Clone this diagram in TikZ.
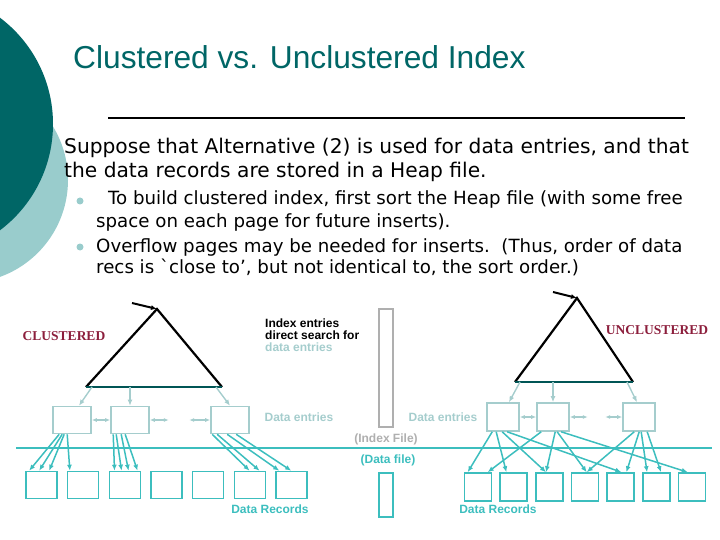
\documentclass[tikz,border=0pt]{standalone}
\usepackage{fontspec}
\setmainfont{Liberation Sans}
\newfontfamily\bodyfont{DejaVu Sans}
\newfontfamily\serifbold{Liberation Serif}
\usetikzlibrary{arrows.meta, positioning, calc}
\definecolor{slidedark}{RGB}{0,102,102}
\definecolor{slidelight}{RGB}{153,204,204}
\definecolor{entrygray}{RGB}{165,205,205}
\definecolor{recteal}{RGB}{60,190,190}
\definecolor{filegray}{RGB}{175,175,175}
\definecolor{basedark}{RGB}{0,85,85}
\definecolor{labelred}{RGB}{140,30,60}

\begin{document}
\begin{tikzpicture}[x=1pt, y=-1pt,
    tri/.style={draw=black, line width=2.2pt},
    base/.style={draw=basedark, line width=2.4pt},
    entry/.style={rectangle, draw=entrygray, line width=1.6pt,
                  minimum width=38pt, minimum height=27pt, inner sep=0pt},
    rentry/.style={entry, minimum width=32pt, minimum height=28pt},
    rec/.style={rectangle, draw=recteal, line width=1.6pt,
                minimum width=31pt, minimum height=27pt, inner sep=0pt},
    rrec/.style={rec, minimum width=27pt, minimum height=28pt},
    tip/.style={-{Latex[length=6pt,width=5pt]}},
    down/.style={tip, draw=entrygray, line width=1.4pt},
    link/.style={{Latex[length=5pt,width=4pt]}-{Latex[length=5pt,width=4pt]},
                 draw=entrygray, line width=1.2pt},
    ptr/.style={tip, draw=recteal, line width=1.5pt},
    lab/.style={font=\bfseries\fontsize{12}{12}\selectfont, inner sep=0pt},
    body/.style={anchor=base west, inner sep=0pt,
                 font=\bodyfont\fontsize{20.2}{24}\selectfont},
    point/.style={anchor=base west, inner sep=0pt,
                  font=\bodyfont\fontsize{18.2}{22}\selectfont},
    dot/.style={circle, fill=slidelight, minimum size=7pt, inner sep=0pt}
]
    \useasboundingbox (0,0) rectangle (720,540);

    % slide decoration
    \begin{scope}
        \clip (0,0) rectangle (720,540);
        \fill[slidelight] (-35,180) circle[radius=103pt];
        \fill[slidedark] (-80,124) circle[radius=133pt];
    \end{scope}

    \node[anchor=base west, inner sep=0pt, text=slidedark,
          font=\fontsize{31.7}{36}\selectfont] (title) at (73,69)
        {Clustered vs. Unclustered Index};
    \draw[line width=2pt] (108,118) -- (685,118);

    \node[body] (intro1) at (64,154)
        {Suppose that Alternative (2) is used for data entries, and that};
    \node[body] (intro2) at (64,178)
        {the data records are stored in a Heap file.};
    \node[dot] (b1) at (80,201) {};
    \node[dot] (b2) at (80,247) {};
    \node[point] (p1) at (108,205)
        {To build clustered index, first sort the Heap file (with some free};
    \node[point] (p2) at (96,227)
        {space on each page for future inserts).};
    \node[point] (p3) at (96,252)
        {Overflow pages may be needed for inserts.\ \ (Thus, order of data};
    \node[point] (p4) at (96,273)
        {recs is \textasciigrave close to’, but not identical to, the sort order.)};

    % clustered tree
    \coordinate (ltop) at (157,309);
    \coordinate (lbl) at (86,387);
    \coordinate (lbr) at (222,387);
    \coordinate (lin) at (132,303);
    \draw[tri] (lbl) -- (ltop) -- (lbr);
    \draw[base] (lbl) -- (lbr);
    \draw[tip, line width=2pt] (lin) -- (ltop);

    \node[entry] (e1) at (72,420) {};
    \node[entry] (e2) at (130,420) {};
    \node[entry] (e3) at (230,420) {};
    \draw[down] ([xshift=6pt]lbl) -- ([xshift=7pt]e1.north);
    \draw[down] ([xshift=44pt]lbl) -- (e2.north);
    \draw[down] ([xshift=-6pt]lbr) -- (e3.north);
    \draw[link] (e1.east) -- (e2.west);
    \draw[link] (e2.east) -- ++(19,0);
    \draw[link] (e3.west) -- ++(-21,0);

    \foreach \i in {1,...,7}
        \node[rec] (l\i) at ({41.5+41.67*(\i-1)},485) {};
    \foreach \s/\t/\e in {7/l1/4, 10/l1/14, 12/l1/24, 15/l2/3}
        \draw[ptr] ([xshift=\s pt]e1.south west) -- ([xshift=\e pt]\t.north west);
    \foreach \s/\e in {3/6, 6/13, 11/20, 15/29}
        \draw[ptr] ([xshift=\s pt]e2.south west) -- ([xshift=\e pt]l3.north west);
    \foreach \s/\t/\e in {2/l6/16, 7/l6/26, 17/l7/4, 26/l7/16}
        \draw[ptr] ([xshift=\s pt]e3.south west) -- ([xshift=\e pt]\t.north west);

    \node[font=\serifbold\bfseries\fontsize{13.5}{13}\selectfont,
          text=labelred, inner sep=0pt] (clus) at (64,336) {CLUSTERED};

    % unclustered tree
    \coordinate (rtop) at (577,298);
    \coordinate (rbl) at (515,382);
    \coordinate (rbr) at (633,382);
    \coordinate (rin) at (553,292);
    \draw[tri] (rbl) -- (rtop) -- (rbr);
    \draw[base] (rbl) -- (rbr);
    \draw[tip, line width=2pt] (rin) -- (rtop);

    \node[rentry] (f1) at (503,417) {};
    \node[rentry] (f2) at (553,417) {};
    \node[rentry] (f3) at (639,417) {};
    \draw[down] ([xshift=5pt]rbl) -- ([xshift=6pt]f1.north);
    \draw[down] ([xshift=38pt]rbl) -- (f2.north);
    \draw[down] ([xshift=-6pt]rbr) -- ([xshift=-2pt]f3.north);
    \draw[link] (f1.east) -- (f2.west);
    \draw[link] (f2.east) -- ++(18,0);
    \draw[link] (f3.west) -- ++(-17,0);

    \foreach \i in {1,...,7}
        \node[rrec] (u\i) at ({478+35.67*(\i-1)},487) {};
    \foreach \s/\t/\e in {6/u1/4, 10/u2/7, 16/u3/11, 21/u5/15}
        \draw[ptr] ([xshift=\s pt]f1.south west) -- ([xshift=\e pt]\t.north west);
    \foreach \s/\t/\e in {5/u1/24, 19/u3/11, 21/u4/16, 25/u7/10}
        \draw[ptr] ([xshift=\s pt]f2.south west) -- ([xshift=\e pt]\t.north west);
    \foreach \s/\t/\e in {12/u4/16, 17/u5/20, 19/u6/5, 25/u6/19}
        \draw[ptr] ([xshift=\s pt]f3.south west) -- ([xshift=\e pt]\t.north west);

    \node[font=\serifbold\bfseries\fontsize{13.5}{13}\selectfont,
          text=labelred, inner sep=0pt] (unclus) at (657,330) {UNCLUSTERED};

    % middle labels
    \node[lab, anchor=north west, align=left] (idx) at (265,319)
        {Index entries\\direct search for\\\textcolor{entrygray}{data entries}};
    \node[rectangle, draw=filegray, line width=1.8pt, minimum width=14pt,
          minimum height=118pt, inner sep=0pt] (ifile) at (386,368) {};
    \node[rectangle, draw=recteal, line width=1.8pt, minimum width=14pt,
          minimum height=44pt, inner sep=0pt] (dfile) at (386,495) {};
    \node[lab, text=entrygray] (de1) at (299,417) {Data entries};
    \node[lab, text=entrygray] (de2) at (443,417) {Data entries};
    \node[lab, text=filegray] (ifl) at (386,439) {(Index File)};
    \node[lab, text=recteal] (dfl) at (388,460) {(Data file)};
    \node[lab, text=recteal] (dr1) at (270,509) {Data Records};
    \node[lab, text=recteal] (dr2) at (498,509) {Data Records};

    \draw[recteal, line width=1.6pt] (16,448) -- (712,448);
\end{tikzpicture}
\end{document}
